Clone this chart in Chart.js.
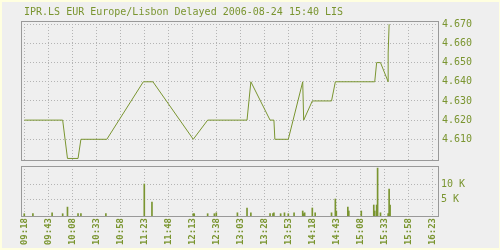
<!DOCTYPE html>
<html><head><meta charset="utf-8">
<script src="https://cdn.jsdelivr.net/npm/chart.js@4/dist/chart.umd.min.js"></script>
<style>
html,body{margin:0;padding:0;background:#ffffe0;width:500px;height:250px;overflow:hidden}
#panel{position:absolute;left:2px;top:2px;width:497px;height:246px;background:#efefef}
canvas{position:absolute;left:0}
#cp{top:0}
#cv{top:162px}
</style></head><body>
<div id="panel"></div>
<canvas id="cp" width="500" height="164"></canvas>
<canvas id="cv" width="500" height="88"></canvas>
<script>
const titleText = "IPR.LS EUR Europe/Lisbon Delayed 2006-08-24 15:40 LIS";
const timeTickLabels = ["09:18","09:43","10:08","10:33","10:58","11:23","11:48","12:13","12:38","13:03","13:28","13:53","14:18","14:43","15:08","15:33","15:58","16:23"];
const priceTicks = [4.610, 4.620, 4.630, 4.640, 4.650, 4.660, 4.670];
const volTicks = [5000, 10000];
const volTickLabels = ["5 K", "10 K"];

const priceTimes = ["09:18","09:58","10:03","10:14","10:17","10:44","11:22","11:32","12:14","12:29","13:10","13:14","13:34","13:38","13:39","13:53","14:08","14:09","14:18","14:38","14:42","15:23","15:25","15:29","15:37","15:37","15:38"];
const priceValues = [4.620,4.620,4.600,4.600,4.610,4.610,4.640,4.640,4.610,4.620,4.620,4.640,4.620,4.620,4.610,4.610,4.640,4.620,4.630,4.630,4.640,4.640,4.650,4.650,4.640,4.655,4.670];

const volTimes = ["09:18","09:27","09:47","09:58","10:03","10:14","10:17","10:43","11:23","11:31","12:14","12:15","12:29","12:36","12:38","13:00","13:10","13:14","13:34","13:37","13:38","13:45","13:49","13:53","13:59","14:08","14:09","14:10","14:18","14:21","14:38","14:42","14:43","14:55","14:56","15:09","15:22","15:23","15:25","15:26","15:29","15:37","15:38","15:39"];
const volValues = [200,200,500,200,2400,200,200,200,10100,4100,200,200,200,200,500,500,2100,500,200,200,500,200,500,200,500,1100,200,500,2100,500,500,5100,1100,2400,1100,1100,3100,1100,3100,15400,500,200,8400,3100];

const OLIVE = '#7a9530';
const GRID = '#b4b4b4';
const FRAME = '#999999';
const MONO = '"DejaVu Sans Mono", "Liberation Mono", monospace';

function toMin(s){ const p = s.split(':'); return (+p[0])*60 + (+p[1]); }
function fmtMin(m){ const h = Math.floor(m/60), mm = m%60; return String(h).padStart(2,'0')+':'+String(mm).padStart(2,'0'); }

const priceData = priceTimes.map((t,i)=>({x: toMin(t), y: priceValues[i]}));
const volData = volTimes.map((t,i)=>({x: toMin(t), y: volValues[i]}));
const timeTickValues = timeTickLabels.map(toMin);

const X_MIN = 554.6, X_MAX = 988.9;

const framePlugin = {
  id: 'frame',
  afterDatasetsDraw(chart){
    const {ctx, chartArea:a} = chart;
    ctx.save();
    ctx.strokeStyle = FRAME; ctx.lineWidth = 1;
    ctx.strokeRect(a.left+0.5, a.top+0.5, a.right-a.left, a.bottom-a.top);
    ctx.restore();
  }
};
const titlePlugin = {
  id: 'ttl',
  afterDraw(chart){
    const ctx = chart.ctx;
    ctx.save();
    ctx.font = '10px ' + MONO;
    ctx.fillStyle = OLIVE;
    ctx.textBaseline = 'alphabetic';
    ctx.textAlign = 'left';
    ctx.fillText(titleText, 24, 14.5);
    ctx.restore();
  }
};
function fixFit(w, h){
  return s => {
    s.paddingTop = 0; s.paddingBottom = 0; s.paddingLeft = 0; s.paddingRight = 0;
    if (w !== null) s.width = w;
    if (h !== null) s.height = h;
  };
}

new Chart(document.getElementById('cp'), {
  type: 'line',
  data: { datasets: [{ data: priceData, borderColor: OLIVE, borderWidth: 1, pointRadius: 0, tension: 0, fill: false }] },
  plugins: [framePlugin, titlePlugin],
  options: {
    responsive: false, animation: false, devicePixelRatio: 1,
    layout: { padding: { left: 21, top: 21, right: 0, bottom: 4 } },
    plugins: { legend: { display: false }, tooltip: { enabled: false }, title: { display: false } },
    scales: {
      x: {
        type: 'linear', min: X_MIN, max: X_MAX, offset: false,
        afterBuildTicks: s => { s.ticks = timeTickValues.map(v => ({value: v})); },
        afterFit: fixFit(null, 0),
        ticks: { display: false },
        grid: { color: GRID, lineWidth: 1, drawTicks: false, offset: false },
        border: { display: false, dash: [1,2] }
      },
      y: {
        position: 'right', min: 4.5992, max: 4.6717,
        afterBuildTicks: s => { s.ticks = priceTicks.map(v => ({value: v})); },
        afterFit: fixFit(62, null),
        ticks: { color: OLIVE, font: { family: MONO, size: 10 }, padding: 4, callback: v => Number(v).toFixed(3) },
        grid: { color: GRID, lineWidth: 1, drawTicks: false },
        border: { display: false, dash: [1,2] }
      }
    }
  }
});

new Chart(document.getElementById('cv'), {
  type: 'bar',
  data: { datasets: [{ data: volData, backgroundColor: OLIVE, borderWidth: 0, barThickness: 1, base: -567, grouped: false }] },
  plugins: [framePlugin],
  options: {
    responsive: false, animation: false, devicePixelRatio: 1,
    layout: { padding: { left: 21, top: 4, right: 0, bottom: 0 } },
    plugins: { legend: { display: false }, tooltip: { enabled: false }, title: { display: false } },
    scales: {
      x: {
        type: 'linear', min: X_MIN, max: X_MAX, offset: false,
        afterBuildTicks: s => { s.ticks = timeTickValues.map(v => ({value: v})); },
        afterFit: fixFit(null, 34),
        ticks: { color: OLIVE, font: { family: MONO, size: 9, weight: 'bold' }, padding: 2, minRotation: 90, maxRotation: 90, autoSkip: false,
                 callback: v => { const i = timeTickValues.indexOf(v); return i >= 0 ? timeTickLabels[i] : fmtMin(v); } },
        grid: { color: GRID, lineWidth: 1, drawTicks: false, offset: false },
        border: { display: false, dash: [1,2] }
      },
      y: {
        position: 'right', min: -567, max: 16100,
        afterBuildTicks: s => { s.ticks = volTicks.map(v => ({value: v})); },
        afterFit: fixFit(62, null),
        ticks: { color: OLIVE, font: { family: MONO, size: 10 }, padding: 3,
                 callback: v => { const i = volTicks.indexOf(v); return i >= 0 ? volTickLabels[i] : ''; } },
        grid: { color: GRID, lineWidth: 1, drawTicks: false },
        border: { display: false, dash: [1,2] }
      }
    }
  }
});
</script>
</body></html>
